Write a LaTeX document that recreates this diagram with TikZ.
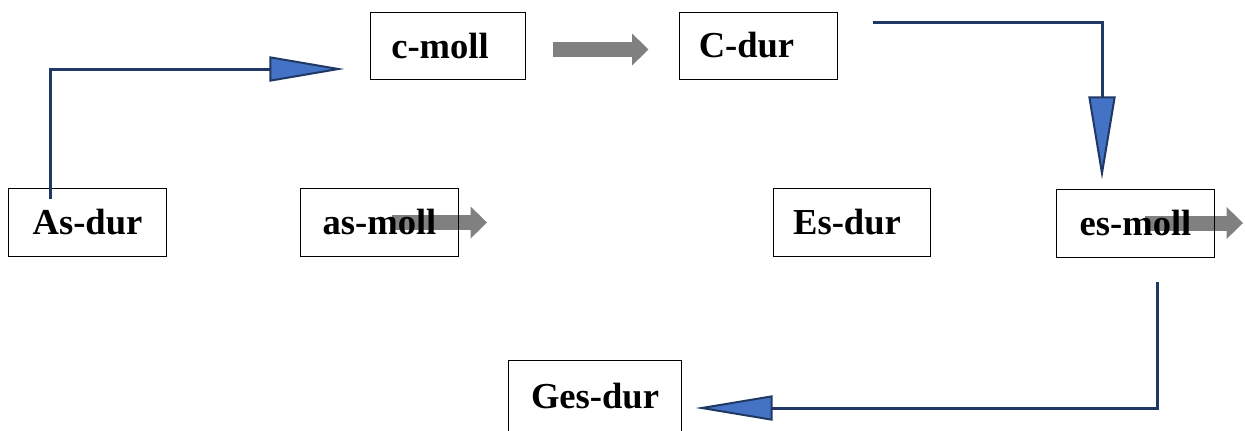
\documentclass[tikz,border=0pt]{standalone}
\usepackage{fontspec}
\setmainfont{Liberation Serif}
\usetikzlibrary{arrows.meta,calc,backgrounds}
\definecolor{navyline}{HTML}{1F3864}
\definecolor{tipblue}{HTML}{4472C4}
\definecolor{shaftgray}{HTML}{808080}

\begin{document}
\begin{tikzpicture}[x=0.025cm, y=-0.025cm,
	key/.style={draw=black, line width=0.7pt, minimum width=3.925cm, minimum height=1.7cm, inner sep=0pt,
		font=\fontsize{26}{30}\selectfont\bfseries},
	turn/.style={navyline, line width=0.075cm},
	blockarrow/.style={shaftgray, line width=0.375cm, -{Triangle[length=0.41cm, width=0.8cm, line width=0pt]}}]
			\useasboundingbox (0,0) rectangle (1245,430);

			\node[key] (AsDur) at (87.5,222) {As-dur};
			\node[key] (asMoll) at (379.5,222) {as-moll};
			\node[key, minimum width=3.85cm, minimum height=1.675cm] (cMoll) at (448,45.5) {\kern-0.4cm c-moll};
			\node[key, minimum height=1.675cm] (CDur) at (758.5,45.5) {\kern-0.6cm C-dur};
			\node[key] (EsDur) at (852,222.5) {\kern-0.25cm Es-dur};
			\node[key] (esMoll) at (1135.5,223) {es-moll};
			\node[key, minimum width=4.3cm, minimum height=1.9cm] (GesDur) at (595,398) {\raisebox{0.1cm}{Ges-dur}};

			\draw[turn, -{Triangle[length=1.875cm, width=0.625cm, line width=0.05cm, fill=tipblue]}]
				($(AsDur.north)+(-37.5,11)$) |- ($(cMoll.west)+(-26,23.5)$);
			\draw[turn, -{Triangle[length=2.075cm, width=0.675cm, line width=0.05cm, fill=tipblue]}]
				($(CDur.east)+(35,-23.5)$) -| ($(esMoll.north)+(-33.5,-9)$);
			\draw[turn, -{Triangle[length=1.925cm, width=0.625cm, line width=0.05cm, fill=tipblue]}]
				($(esMoll.south)+(21.5,24)$) |- ($(GesDur.east)+(14,10)$);

			\begin{scope}[on background layer]
				\draw[blockarrow] ($(cMoll.east)+(27,4)$) -- ($(CDur.west)+(-31,4)$);
				\draw[blockarrow] ($(asMoll.center)+(12.5,0.5)$) -- ++(95,0);
				\draw[blockarrow] ($(esMoll.center)+(9.5,0)$) -- ++(98,0);
			\end{scope}
		\end{tikzpicture}
\end{document}
